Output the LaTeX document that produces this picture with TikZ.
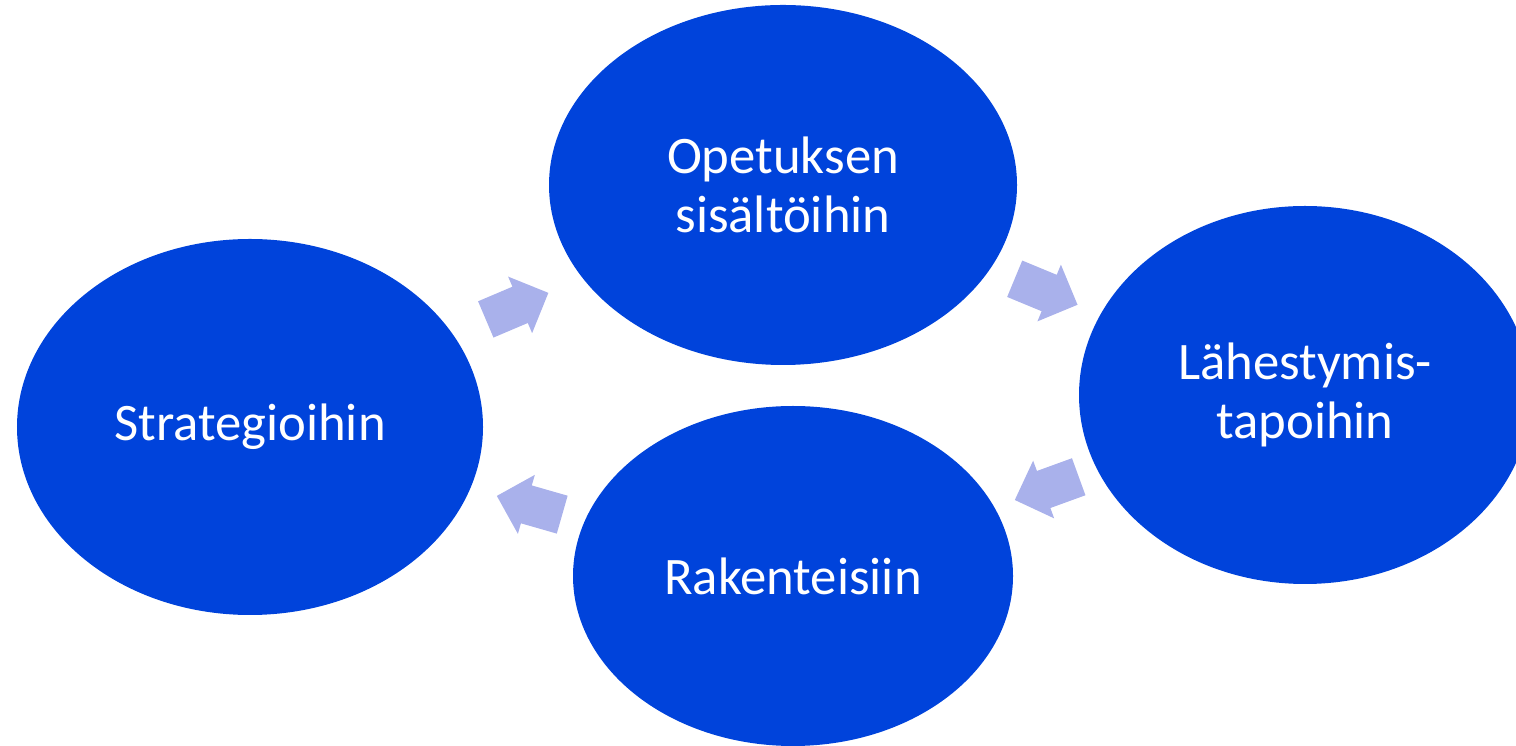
\documentclass[tikz,border=0pt]{standalone}
\usepackage{fontspec}
\setmainfont{Carlito}
\usetikzlibrary{shapes.geometric,shapes.arrows}
\definecolor{ovalblue}{RGB}{0,67,219}
\definecolor{arrowlilac}{RGB}{169,177,235}
\begin{document}
\begin{tikzpicture}[
        font=\fontsize{15}{17}\selectfont,
        oval/.style={ellipse, fill=ovalblue, text=white, align=center, inner sep=0pt},
        flow/.style={single arrow, fill=arrowlilac, inner sep=0.19cm, minimum height=0.68cm,
            single arrow head extend=0.11cm}
    ]
        \clip (0,0) rectangle (15.16,7.45);
        \node[oval, minimum width=4.66cm, minimum height=3.76cm] (strat) at (2.50,3.18) {Strategioihin};
        \node[oval, minimum width=4.68cm, minimum height=3.60cm] (opet) at (7.83,5.60) {Opetuksen\\sisältöihin};
        \node[oval, minimum width=4.52cm, minimum height=3.78cm] (lah) at (13.05,3.50) {Lähestymis-\\tapoihin};
        \node[oval, minimum width=4.40cm, minimum height=3.40cm] (rak) at (7.93,1.69) {Rakenteisiin};
        \node[flow, rotate=23] (f1) at (5.08,4.35) {};
        \node[flow, rotate=-22.5] (f2) at (10.37,4.57) {};
        \node[flow, rotate=200] (f3) at (10.56,2.60) {};
        \node[flow, rotate=164] (f4) at (5.39,2.37) {};
    \end{tikzpicture}
\end{document}
